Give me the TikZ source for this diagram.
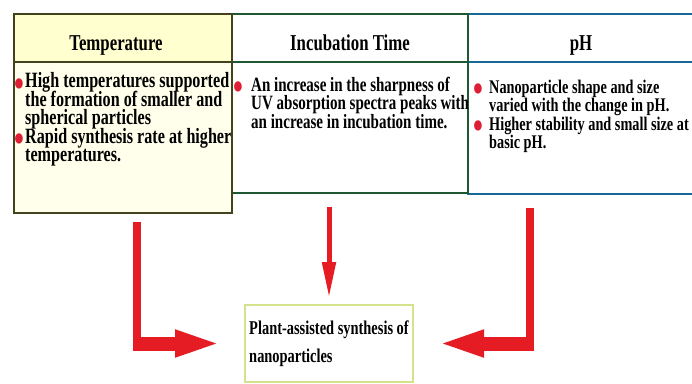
\documentclass[tikz,border=0pt]{standalone}
\usepackage{fontspec}
\setmainfont{Liberation Serif}[FakeStretch=0.74]
\usetikzlibrary{positioning,calc,arrows.meta}
\definecolor{arrred}{RGB}{230,28,36}
\definecolor{bulred}{RGB}{222,30,52}
\definecolor{templine}{RGB}{66,66,28}
\definecolor{tempfill}{RGB}{255,255,208}
\definecolor{bodyfill}{RGB}{255,255,236}
\definecolor{incline}{RGB}{30,88,48}
\definecolor{phline}{RGB}{24,104,150}
\definecolor{resline}{RGB}{212,226,140}
\setlength{\lineskiplimit}{-20pt}
\newcommand{\redbul}[1][4pt]{\leavevmode\llap{\textcolor{bulred}{\raisebox{-8.5pt}{\fontsize{38}{38}\selectfont\textbullet}}\hspace{#1}}}

\begin{document}
\begin{tikzpicture}[x=1pt,y=-1pt,
    box/.style={draw,rectangle,line width=2pt,outer sep=0pt,inner sep=0pt},
    head/.style={box,minimum height=48pt,text height=24pt,text depth=0pt,font=\fontsize{22.7}{24}\selectfont\bfseries},
    bodytext/.style={inner sep=0pt,align=left,font=\fontsize{#1}{18.4}\selectfont\bfseries},
    vshaft/.style={draw=arrred,line width=8.5pt},
    hshaft/.style={draw=arrred,line width=14pt,-{Triangle[length=47pt,width=24pt]}},
    midarrow/.style={draw=arrred,line width=5pt,-{Triangle[length=36pt,width=13pt]}}]
\useasboundingbox (0,0) rectangle (692,383);

\node[head,draw=phline,anchor=north west,minimum width=226pt] (phhead) at (468,14) {pH};
\node[box,draw=phline,minimum width=226pt,minimum height=132pt,below=0pt of phhead] (phbody) {};
\node[head,draw=incline,minimum width=236pt,left=0pt of phhead] (inchead) {Incubation Time};
\node[box,draw=incline,minimum width=236pt,minimum height=131pt,below=0pt of inchead] (incbody) {};
\node[head,draw=templine,fill=tempfill,minimum width=218pt,left=0pt of inchead] (temphead) {Temperature\hspace*{14pt}};
\node[box,draw=templine,fill=bodyfill,minimum width=218pt,minimum height=151pt,below=0pt of temphead] (tempbody) {};

\node[bodytext=21.8,below right=10.5pt and 11pt of tempbody.north west] (temptext)
  {\redbul[1pt]High temperatures supported\\the formation of smaller and\\spherical particles\\\redbul[1pt]Rapid synthesis rate at higher\\temperatures.};
\node[bodytext=20.3,below right=14.8pt and 19pt of incbody.north west] (inctext)
  {\redbul[8pt]An increase in the sharpness of\\UV absorption spectra peaks with\\an increase in incubation time.};
\node[bodytext=19.3,below right=17.8pt and 21pt of phbody.north west] (phtext)
  {\redbul[6pt]Nanoparticle shape and size\\varied with the change in pH.\\\redbul[6pt]Higher stability and small size at\\basic pH.};

\node[box,draw=resline,line width=1.5pt,anchor=north west,minimum width=168pt,minimum height=77pt,
  align=left,font=\fontsize{19.5}{28}\selectfont\bfseries] (result) at (245,305)
  {Plant-assisted synthesis of\\nanoparticles};

\coordinate (ltop) at ([xshift=123pt,yshift=-9pt]tempbody.south west);
\coordinate (rtop) at ([xshift=62pt,yshift=-14pt]phbody.south west);
\coordinate (mtop) at ($(incbody.south -| result.north)+(0,14)$);
\draw[vshaft] (ltop) -- ($(ltop |- result.west)+(0,7)$);
\draw[hshaft] ($(ltop |- result.west)+(-4.25,0)$) -- ($(result.west)+(-23,0)$);
\draw[vshaft] (rtop) -- ($(rtop |- result.east)+(0,7)$);
\draw[hshaft] ($(rtop |- result.east)+(4.25,0)$) -- ($(result.east)+(24,0)$);
\draw[midarrow] (mtop) -- ($(result.north)+(0,-7)$);
\end{tikzpicture}
\end{document}
